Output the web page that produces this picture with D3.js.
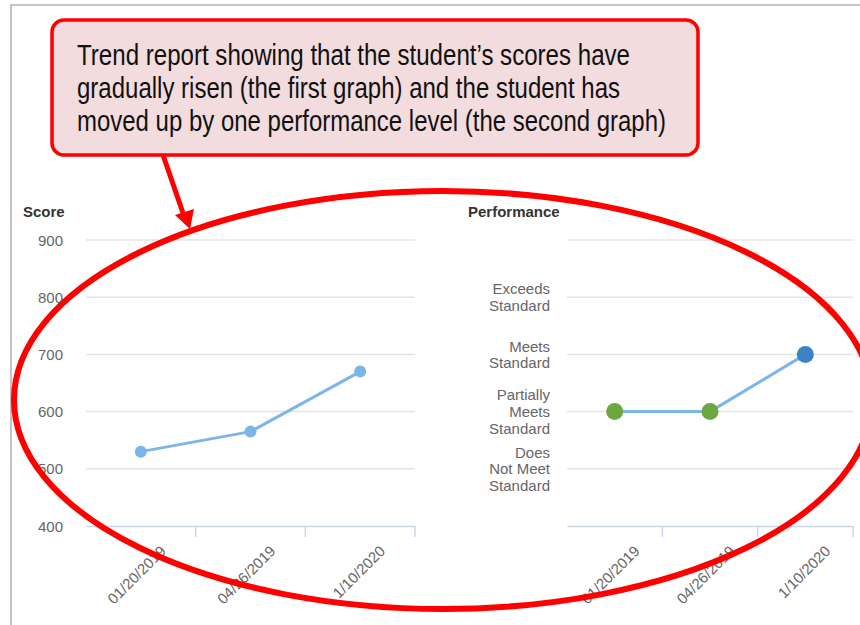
<!DOCTYPE html>
<html>
<head>
<meta charset="utf-8">
<script src="https://cdn.jsdelivr.net/npm/d3@7/dist/d3.min.js"></script>
<style>
  html, body { margin: 0; padding: 0; background: #fff; }
  svg { display: block; }
</style>
</head>
<body>
<svg id="chart" width="860" height="625"></svg>
<script>
// Test dates shared by both panels
const dates = ["01/20/2019", "04/26/2019", "1/10/2020"];
// Scale scores for each test
const scores = [530, 565, 670];
const scoreTicks = [400, 500, 600, 700, 800, 900];
// Performance level per test (1 = Does Not Meet ... 4 = Exceeds)
const perfLevels = [2, 2, 3];
const levelTicks = [0, 1, 2, 3, 4, 5];
const levelNames = ["", "Does\nNot Meet\nStandard", "Partially\nMeets\nStandard", "Meets\nStandard", "Exceeds\nStandard", ""];
const levelColors = ["#7cb5ec", "#7cb5ec", "#6ea641", "#3a84c5", "#3a84c5", "#3a84c5"];
// Callout text lines
const noteLines = [
  "Trend report showing that the student\u2019s scores have",
  "gradually risen (the first graph) and the student has",
  "moved up by one performance level (the second graph)"
];
const noteWidths = [553, 543, 589];

const svg = d3.select("#chart");
const FONT = "'Liberation Sans', Arial, Helvetica, sans-serif";

// page frame
svg.append("path").attr("d", "M11,625 V5 H860")
  .attr("fill", "none").attr("stroke", "#b4b4b4").attr("stroke-width", 1.6);

function panel(opts) {
  const g = svg.append("g");
  const x = d3.scaleBand().domain(dates).range(opts.xRange);
  const y = d3.scaleLinear().domain(opts.yDomain).range([526, 240]);

  // title
  g.append("text").attr("x", opts.titleX).attr("y", 217)
    .attr("font-family", FONT).attr("font-size", 15).attr("font-weight", "bold")
    .attr("fill", "#333").text(opts.title);

  // horizontal grid
  g.selectAll(".grid").data(opts.ticks.slice(1)).join("line")
    .attr("x1", opts.xRange[0]).attr("x2", opts.xRange[1])
    .attr("y1", d => y(d)).attr("y2", d => y(d))
    .attr("stroke", "#e4e4e4").attr("stroke-width", 1.5);

  // x axis line and ticks between categories
  const xAxis = d3.axisBottom(x).tickSize(0).tickFormat("");
  const ax = g.append("g").attr("transform", "translate(0,526)").call(xAxis);
  ax.select(".domain").attr("stroke", "#ccd6eb").attr("stroke-width", 1.5);
  g.selectAll(".xtick").data(dates).join("line")
    .attr("x1", d => x(d) + x.bandwidth()).attr("x2", d => x(d) + x.bandwidth())
    .attr("y1", 526).attr("y2", 537)
    .attr("stroke", "#ccd6eb").attr("stroke-width", 1.5);

  // rotated category labels
  g.selectAll(".xlab").data(dates).join("text")
    .attr("transform", d => `translate(${x(d) + x.bandwidth() / 2 + 26},552) rotate(-45)`)
    .attr("text-anchor", "end")
    .attr("font-family", FONT).attr("font-size", 15).attr("fill", "#666")
    .text(d => d);

  // y labels
  const yl = g.selectAll(".ylab").data(opts.ticks).join("text")
    .attr("text-anchor", "end")
    .attr("font-family", FONT).attr("font-size", 15).attr("fill", "#666");
  yl.each(function (d) {
    const lines = opts.label(d).split("\n");
    const t = d3.select(this);
    const lh = 16.8;
    const y0 = y(d) + 5.5 - (lines.length - 1) * lh / 2;
    lines.forEach((s, i) => {
      t.append("tspan").attr("x", opts.labelX).attr("y", y0 + i * lh).text(s);
    });
  });

  // series line and markers
  const pts = dates.map((d, i) => [x(d) + x.bandwidth() / 2, y(opts.values[i])]);
  g.append("path").attr("d", d3.line()(pts))
    .attr("fill", "none").attr("stroke", "#7cb5ec").attr("stroke-width", 3)
    .attr("stroke-linejoin", "round");
  g.selectAll(".pt").data(opts.values).join("circle")
    .attr("cx", (v, i) => pts[i][0]).attr("cy", (v, i) => pts[i][1])
    .attr("r", opts.r).attr("fill", (v) => opts.color(v));
}

panel({
  title: "Score", titleX: 23,
  xRange: [86, 415], yDomain: [400, 900], ticks: scoreTicks,
  label: d => String(d), labelX: 63,
  values: scores, r: 6, color: () => "#7cb5ec"
});

panel({
  title: "Performance", titleX: 468,
  xRange: [567, 853], yDomain: [0, 5], ticks: levelTicks,
  label: d => levelNames[d], labelX: 550,
  values: perfLevels, r: 8.5, color: v => levelColors[v]
});

// callout box
svg.append("rect").attr("x", 52).attr("y", 20).attr("width", 646).attr("height", 135)
  .attr("rx", 12).attr("fill", "#f2dcdd").attr("stroke", "#ff0000").attr("stroke-width", 3.5);
svg.selectAll(".note").data(noteLines).join("text")
  .attr("x", 77).attr("y", (d, i) => 64.5 + i * 33)
  .attr("font-family", "'Liberation Sans Narrow', 'Arial Narrow', 'Liberation Sans', Arial, sans-serif")
  .attr("font-size", 29).attr("fill", "#111")
  .attr("textLength", (d, i) => noteWidths[i]).attr("lengthAdjust", "spacingAndGlyphs")
  .text(d => d);

// pointer arrow
svg.append("line").attr("x1", 163).attr("y1", 155).attr("x2", 183).attr("y2", 213)
  .attr("stroke", "#ff0000").attr("stroke-width", 5);
svg.append("path").attr("d", "M190,229 L175,215 L194,209 Z").attr("fill", "#ff0000");

// highlight ellipse
svg.append("ellipse").attr("cx", 443).attr("cy", 400).attr("rx", 429).attr("ry", 209)
  .attr("fill", "none").attr("stroke", "#ff0000").attr("stroke-width", 6);
</script>
</body>
</html>
